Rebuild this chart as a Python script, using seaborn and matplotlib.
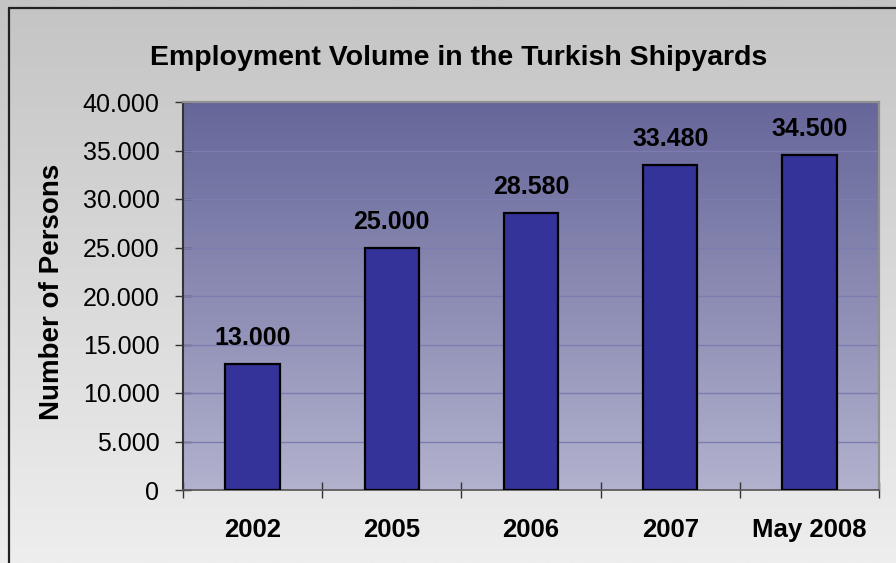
import numpy as np
import pandas as pd
import matplotlib
matplotlib.use("Agg")
import matplotlib.pyplot as plt
import seaborn as sns
from matplotlib.colors import LinearSegmentedColormap
from matplotlib.lines import Line2D

categories = ["2002", "2005", "2006", "2007", "May 2008"]
values = [13000, 25000, 28580, 33480, 34500]
value_labels = ["13.000", "25.000", "28.580", "33.480", "34.500"]
yticks = [0, 5000, 10000, 15000, 20000, 25000, 30000, 35000, 40000]
ytick_labels = ["0", "5.000", "10.000", "15.000", "20.000", "25.000", "30.000", "35.000", "40.000"]
title = "Employment Volume in the Turkish Shipyards"
ylabel = "Number of Persons"

sns.set_theme(style="white")
plt.rcParams["font.family"] = ["Liberation Sans", "DejaVu Sans"]
plt.rcParams["text.color"] = "black"
plt.rcParams["axes.labelcolor"] = "black"
plt.rcParams["xtick.color"] = "black"
plt.rcParams["ytick.color"] = "black"

df = pd.DataFrame({"cat": categories, "val": values})

fig = plt.figure(figsize=(8.96, 5.63), dpi=100)

# figure background gradient
bg = fig.add_axes([0, 0, 1, 1], zorder=-10)
bg_cmap = LinearSegmentedColormap.from_list("bg", ["#c4c4c4", "#eeeeee"])
bg.imshow(np.linspace(0, 1, 256).reshape(-1, 1), aspect="auto", cmap=bg_cmap,
          extent=[0, 1, 0, 1], origin="upper")
bg.set_xlim(0, 1); bg.set_ylim(0, 1)
bg.axis("off")
fig.add_artist(Line2D([8.5/896, 8.5/896], [0, 1 - 7.5/563], color="#222222", lw=1.6, transform=fig.transFigure))
fig.add_artist(Line2D([8.5/896, 1], [1 - 7.5/563, 1 - 7.5/563], color="#222222", lw=1.6, transform=fig.transFigure))

ax = fig.add_axes([183/896, 1 - 490/563, (879 - 183)/896, (490 - 102)/563])

# plot area gradient
pa_cmap = LinearSegmentedColormap.from_list("pa", ["#66669a", "#b2b2ce"])
ax.imshow(np.linspace(0, 1, 256).reshape(-1, 1), aspect="auto", cmap=pa_cmap,
          extent=[-0.5, 4.5, 0, 40000], origin="upper", zorder=0)

sns.barplot(data=df, x="cat", y="val", color="#333399", saturation=1, width=0.39,
            edgecolor="black", linewidth=1.6, ax=ax, zorder=3)

ax.set_xlim(-0.5, 4.5)
ax.set_ylim(0, 40000)
ax.set_yticks(yticks)
ax.set_yticklabels(ytick_labels, fontsize=18)
for y in yticks[1:-1]:
    ax.axhline(y, color="#7c7cb0", lw=1, zorder=1)

ax.set_xticks(range(len(categories)))
ax.set_xticklabels(categories, fontsize=18.5, fontweight="bold")
ax.tick_params(axis="x", which="major", length=0, pad=20, bottom=True)
ax.set_xticks(np.arange(-0.5, 5, 1), minor=True)
ax.tick_params(axis="x", which="minor", direction="inout", length=12, width=1,
               color="#333333", bottom=True)
ax.tick_params(axis="y", which="major", direction="inout", length=12, width=1,
               color="#333333", pad=11, left=True)
ax.set_xlabel("")
ax.set_ylabel("")

ax.spines["left"].set_color("#333333"); ax.spines["left"].set_linewidth(1.5)
ax.spines["bottom"].set_color("#555555"); ax.spines["bottom"].set_linewidth(1.2)
for s in ["top", "right"]:
    ax.spines[s].set_color("#909090"); ax.spines[s].set_linewidth(1.6)
    ax.spines[s].set_visible(True)

for i, (v, lab) in enumerate(zip(values, value_labels)):
    ax.annotate(lab, (i, v), xytext=(0, 10), textcoords="offset points",
                ha="center", va="bottom", fontsize=18, fontweight="bold", zorder=5)

fig.text(459/896, 1 - 58/563, title, ha="center", va="center", fontsize=20.5, fontweight="bold")
fig.text(52/896, 1 - 292/563, ylabel, ha="center", va="center", rotation=90, fontsize=20, fontweight="bold")

fig.savefig("out.png", dpi=100)
